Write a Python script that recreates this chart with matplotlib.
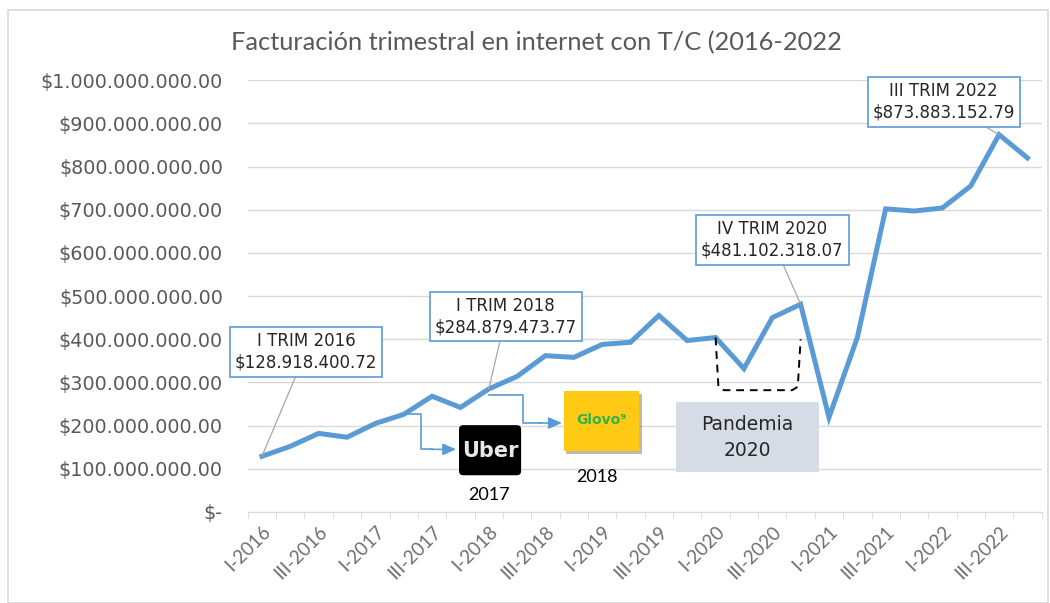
import matplotlib
matplotlib.use("Agg")
import matplotlib.pyplot as plt
from matplotlib.patches import Rectangle, FancyBboxPatch
import matplotlib.patheffects as pe

# Datos trimestrales (lectura aproximada del gráfico)
trimestres = ["I-2016", "II-2016", "III-2016", "IV-2016",
              "I-2017", "II-2017", "III-2017", "IV-2017",
              "I-2018", "II-2018", "III-2018", "IV-2018",
              "I-2019", "II-2019", "III-2019", "IV-2019",
              "I-2020", "II-2020", "III-2020", "IV-2020",
              "I-2021", "II-2021", "III-2021", "IV-2021",
              "I-2022", "II-2022", "III-2022", "IV-2022"]
facturacion = [128918400.72, 152e6, 182e6, 173e6,
               205e6, 226e6, 268e6, 242e6,
               284879473.77, 314e6, 362e6, 358e6,
               388e6, 393e6, 455e6, 397e6,
               404e6, 332e6, 450e6, 481102318.07,
               219e6, 404e6, 702e6, 697e6,
               704e6, 755e6, 873883152.79, 820e6]

# Puntos destacados
destacados = [0, 8, 19, 26]
etiquetas_dest = ["I TRIM 2016", "I TRIM 2018", "IV TRIM 2020", "III TRIM 2022"]

azul = "#5B9BD5"
gris = "#595959"
fuente = "DejaVu Sans"


def formato_pesos(v):
    if v == 0:
        return "$-"
    return "$" + "{:,.2f}".format(v).replace(",", ".")


fig = plt.figure(figsize=(10.5, 6.03), dpi=100)
ax = fig.add_axes([0.236, 0.151, 0.756, 0.716])

x = list(range(len(trimestres)))
ax.plot(x, facturacion, color=azul, lw=3.6, solid_joinstyle="miter", zorder=3)

ax.set_xlim(-0.5, len(trimestres) - 0.5)
ax.set_ylim(0, 1e9)
ax.set_yticks([i * 1e8 for i in range(11)])
ax.set_yticklabels([formato_pesos(i * 1e8) for i in range(11)],
                   fontsize=13.8, color=gris, family=fuente)
ax.tick_params(axis="y", length=0, pad=18)
ax.grid(axis="y", color="#D9D9D9", lw=1)
ax.set_axisbelow(True)

# ticks del eje x en los bordes de cada categoría
ax.set_xticks([i - 0.5 for i in range(len(trimestres) + 1)], minor=True)
ax.set_xticks(x[::2])
ax.set_xticklabels(trimestres[::2], rotation=45, ha="right",
                   rotation_mode="anchor", fontsize=13.5, color="#6F6F6F",
                   family="Lato")
ax.tick_params(axis="x", which="major", length=0, pad=8)
ax.tick_params(axis="x", which="minor", length=5, color="#D9D9D9")

for s in ["top", "right", "left"]:
    ax.spines[s].set_visible(False)
ax.spines["bottom"].set_color("#D9D9D9")

fig.text(0.511, 0.93, "Facturación trimestral en internet con T/C (2016-2022",
         ha="center", va="center", fontsize=18.3, color=gris, family="Lato")

# Etiquetas de puntos destacados
pos_etiquetas = [(1.55, 370e6), (8.6, 453e6), (18.0, 630e6), (24.05, 949e6)]
for idx, txt, (tx, ty) in zip(destacados, etiquetas_dest, pos_etiquetas):
    ax.annotate(txt + "\n" + formato_pesos(facturacion[idx]),
                xy=(idx, facturacion[idx]), xytext=(tx, ty),
                ha="center", va="center", fontsize=12, color="#262626",
                family=fuente, linespacing=1.25,
                bbox=dict(boxstyle="square,pad=0.3", fc="white", ec=azul, lw=1.2),
                arrowprops=dict(arrowstyle="-", color="#A6A6A6", lw=0.9,
                                shrinkA=0, shrinkB=0),
                zorder=5)

# Uber 2017
uber = FancyBboxPatch((6.95, 85e6), 2.19, 116e6,
                      boxstyle="round,pad=0,rounding_size=0.15",
                      mutation_aspect=6.5e7, fc="black", ec="none", zorder=4)
ax.add_patch(uber)
ax.text(8.05, 141e6, "Uber", color="#E8E8E8", fontsize=15, ha="center",
        va="center", family=fuente, fontweight="bold", zorder=5)
ax.text(8.0, 40e6, "2017", fontsize=13, ha="center", va="center",
        family="Lato", color="black")

# Glovo 2018
glovo = Rectangle((10.64, 141e6), 2.65, 138e6, fc="#FFC914", ec="none", zorder=4,
                  path_effects=[pe.withSimplePatchShadow(offset=(2, -2),
                                                         alpha=0.35)])
ax.add_patch(glovo)
ax.text(11.97, 212e6, "Glovo⁹", color="#35B24A", fontsize=10, ha="center",
        va="center", family=fuente, fontweight="bold", zorder=5)
ax.text(11.8, 82e6, "2018", fontsize=13, ha="center", va="center",
        family="Lato", color="black")

# flechas hacia los logos
ax.plot([5, 5.6, 5.6, 6.0], [facturacion[5], facturacion[5], 145e6, 145e6],
        color=azul, lw=1.2, zorder=2)
ax.annotate("", xy=(6.85, 145e6), xytext=(5.95, 145e6),
            arrowprops=dict(arrowstyle="-|>,head_length=0.8,head_width=0.35",
                            color=azul, lw=1.2, shrinkA=0, shrinkB=0))
ax.plot([8, 9.2, 9.2, 9.8], [272e6, 272e6, 206e6, 206e6],
        color=azul, lw=1.2, zorder=2)
ax.annotate("", xy=(10.58, 206e6), xytext=(9.75, 206e6),
            arrowprops=dict(arrowstyle="-|>,head_length=0.8,head_width=0.35",
                            color=azul, lw=1.2, shrinkA=0, shrinkB=0))

# Pandemia
ax.add_patch(Rectangle((14.6, 92e6), 5.05, 162e6, fc="#D6DCE5", ec="none",
                       zorder=4))
ax.text(17.12, 173e6, "Pandemia\n2020", fontsize=13.5, ha="center",
        va="center", color="#262626", family=fuente, linespacing=1.45,
        zorder=5)
ax.plot([16.0, 16.1, 16.3, 18.7, 18.9, 19.0],
        [facturacion[16], 290e6, 282e6, 282e6, 290e6, 400e6],
        color="black", lw=1.4, ls=(0, (4, 3)), zorder=4)

# borde exterior
fig.patches.append(Rectangle((0.008, 0.0), 0.99, 0.983, transform=fig.transFigure,
                             fill=False, ec="#D9D9D9", lw=1.2))

fig.savefig("out.png", dpi=100)
